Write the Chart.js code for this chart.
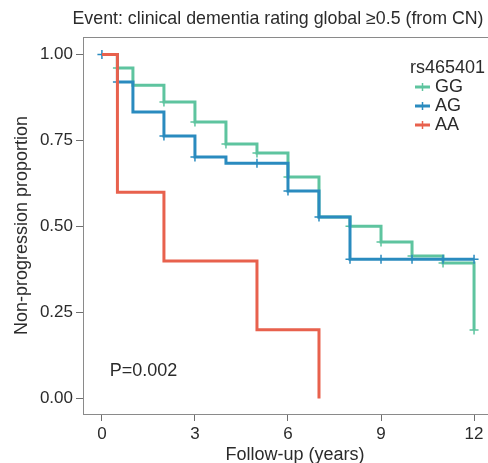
<!DOCTYPE html>
<html>
<head>
<meta charset="utf-8">
<script src="https://cdn.jsdelivr.net/npm/chart.js@4/dist/chart.umd.min.js"></script>
<style>
  html, body { margin: 0; padding: 0; background: #fff; }
  canvas { display: block; }
</style>
</head>
<body>
<canvas id="km" width="488" height="463"></canvas>
<script>
// Kaplan-Meier steps (time in years, proportion)
const ggTimes = [0, 0.5, 1, 2, 3, 4, 5, 6, 7, 8, 9, 10, 11, 12];
const ggSurv  = [1, 0.961, 0.911, 0.862, 0.804, 0.740, 0.714, 0.644, 0.528, 0.501, 0.455, 0.414, 0.394, 0.199];
const agTimes = [0, 0.5, 1, 2, 3, 4, 6, 7, 8, 12];
const agSurv  = [1, 0.920, 0.833, 0.763, 0.702, 0.684, 0.603, 0.528, 0.405, 0.405];
const aaTimes = [0, 0.5, 2, 5, 7];
const aaSurv  = [1, 0.6, 0.4, 0.2, 0];

// censor marks (+)
const ggCensT = [0.5, 2, 3, 4, 5, 6, 8, 9, 10, 11, 12];
const ggCensS = [0.961, 0.862, 0.804, 0.740, 0.714, 0.644, 0.501, 0.455, 0.414, 0.394, 0.199];
const agCensT = [0, 0.5, 2, 3, 5, 6, 7, 8, 9, 10, 11, 12];
const agCensS = [1, 0.920, 0.763, 0.702, 0.684, 0.603, 0.528, 0.405, 0.405, 0.405, 0.405, 0.405];

const xTicks = [0, 3, 6, 9, 12];
const yTicks = [0, 0.25, 0.5, 0.75, 1];

const groups = ['GG', 'AG', 'AA'];
const colors = { GG: '#5EC49F', AG: '#2A8BBF', AA: '#E8614D' };

const titleText = 'Event: clinical dementia rating global \u22650.5 (from CN)';
const xTitle = 'Follow-up (years)';
const pText = 'P=0.002';
const legendTitle = 'rs465401';

const FONT = '"Liberation Sans", Arial, Helvetica, sans-serif';
const TXT = '#2b2b2b';

function pts(xs, ys) { return xs.map((x, i) => ({ x: x, y: ys[i] })); }

// title, x title, legend, P value and top frame line
const decor = {
    id: 'decor',
    afterDraw(chart) {
        const ctx = chart.ctx;
        const area = chart.chartArea;
        ctx.save();
        ctx.strokeStyle = '#8a8a8a';
        ctx.lineWidth = 1;
        ctx.beginPath();
        ctx.moveTo(area.left, area.top + 0.5);
        ctx.lineTo(area.right, area.top + 0.5);
        ctx.stroke();

        ctx.fillStyle = TXT;
        ctx.textBaseline = 'middle';
        ctx.font = '17.8px ' + FONT;
        ctx.textAlign = 'center';
        ctx.fillText(titleText, 278, 19);

        ctx.font = '18px ' + FONT;
        ctx.fillText(xTitle, 295, 455);

        const xs = chart.scales.x, ys = chart.scales.y;
        ctx.textAlign = 'left';
        ctx.fillText(pText, xs.getPixelForValue(0.25), ys.getPixelForValue(0.08));

        // legend
        ctx.fillText(legendTitle, 410, 68);
        groups.forEach((g, i) => {
            const y = 87 + i * 19;
            ctx.strokeStyle = colors[g];
            ctx.lineWidth = 3;
            ctx.beginPath();
            ctx.moveTo(415, y); ctx.lineTo(430, y);
            ctx.stroke();
            ctx.lineWidth = 1.5;
            ctx.beginPath();
            ctx.moveTo(422.5, y - 4); ctx.lineTo(422.5, y + 4);
            ctx.stroke();
            ctx.fillStyle = TXT;
            ctx.fillText(g, 435, y);
        });
        ctx.restore();
    }
};

const lineDs = (label, xs, ys, order) => ({
    type: 'line',
    label: label,
    data: pts(xs, ys),
    borderColor: colors[label],
    borderWidth: 3,
    stepped: true,
    pointRadius: 0,
    fill: false,
    order: order
});

const censDs = (label, xs, ys, order) => ({
    type: 'scatter',
    label: label + ' censored',
    data: pts(xs, ys),
    borderColor: colors[label],
    backgroundColor: colors[label],
    pointStyle: 'cross',
    pointRadius: 4.5,
    pointBorderWidth: 1.5,
    showLine: false,
    order: order
});

new Chart(document.getElementById('km'), {
    data: {
        datasets: [
            lineDs('AA', aaTimes, aaSurv, 0),
            censDs('AG', agCensT, agCensS, 1),
            lineDs('AG', agTimes, agSurv, 2),
            censDs('GG', ggCensT, ggCensS, 3),
            lineDs('GG', ggTimes, ggSurv, 4)
        ]
    },
    options: {
        responsive: false,
        animation: false,
        devicePixelRatio: 1,
        layout: { autoPadding: false, padding: { top: 37, right: 0, left: 0, bottom: 0 } },
        plugins: { legend: { display: false }, tooltip: { enabled: false } },
        scales: {
            x: {
                type: 'linear',
                min: -0.61,
                max: 12.45,
                afterBuildTicks: s => { s.ticks = xTicks.map(v => ({ value: v })); },
                afterFit: s => { s.height = 49; s.paddingLeft = 0; s.paddingRight = 0; },
                grid: { drawOnChartArea: false, tickLength: 7, color: '#6f6f6f' },
                border: { color: '#8a8a8a' },
                ticks: { font: { size: 17, family: FONT }, color: TXT, padding: 3, maxRotation: 0 }
            },
            y: {
                type: 'linear',
                min: -0.045,
                max: 1.051,
                afterBuildTicks: s => { s.ticks = yTicks.map(v => ({ value: v })); },
                afterFit: s => { s.width = 83; s.paddingTop = 0; s.paddingBottom = 0; },
                grid: { drawOnChartArea: false, tickLength: 7, color: '#6f6f6f' },
                border: { color: '#8a8a8a' },
                ticks: { font: { size: 17, family: FONT }, color: TXT, padding: 3,
                         callback: v => v.toFixed(2) },
                title: { display: true, text: 'Non-progression proportion', color: TXT,
                         font: { size: 18, family: FONT, lineHeight: 1 }, padding: { top: 13, bottom: 0 } }
            }
        }
    },
    plugins: [decor]
});
</script>
</body>
</html>
